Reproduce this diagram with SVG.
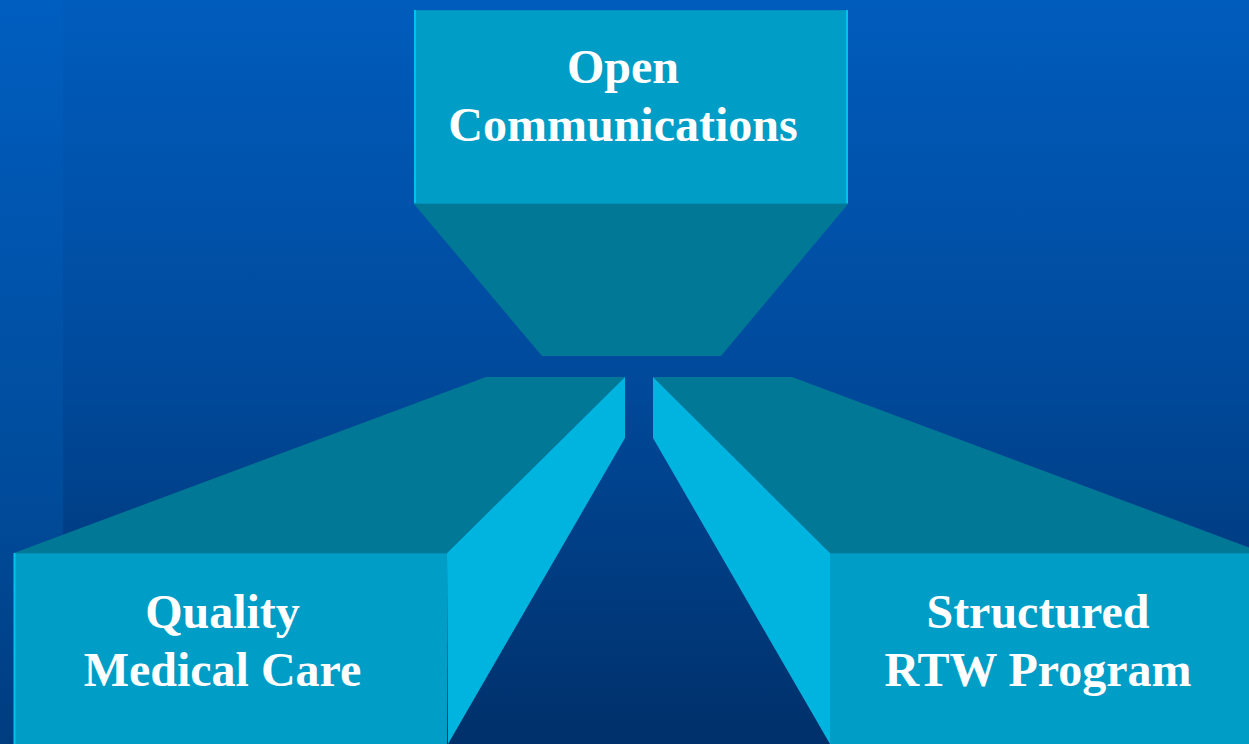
<svg xmlns="http://www.w3.org/2000/svg" width="1249" height="744" viewBox="0 0 1249 744">
  <defs>
    <linearGradient id="bgMain" x1="0" y1="0" x2="0" y2="1">
      <stop offset="0" stop-color="#005CBC"/>
      <stop offset="0.5" stop-color="#004A9C"/>
      <stop offset="1" stop-color="#00306A"/>
    </linearGradient>
    <linearGradient id="bgStrip" x1="0" y1="0" x2="0" y2="1">
      <stop offset="0" stop-color="#005EC0"/>
      <stop offset="0.7" stop-color="#004A98"/>
      <stop offset="1" stop-color="#003C80"/>
    </linearGradient>
    <style>
      .front { fill: #009EC6; }
      .top { fill: #007896; }
      .side { fill: #00B4E0; }
      .edge { stroke: #00C2EC; stroke-width: 2; fill: none; }
      .rim { stroke: #0090B8; stroke-width: 1; fill: none; }
      .label { font-family: "Liberation Serif", "Times New Roman", serif; font-weight: bold; font-size: 48px; fill: #FFFFFF; text-anchor: middle; }
    </style>
  </defs>

  <!-- backdrop -->
  <rect x="0" y="0" width="1249" height="744" fill="url(#bgMain)"/>
  <rect x="0" y="0" width="63" height="744" fill="url(#bgStrip)"/>

  <!-- funnel linking the blocks -->
  <g id="connectors">
    <polygon class="top" points="414,204 848,204 721,356 542,356"/>
  </g>

  <!-- Open Communications -->
  <g id="node-open-communications">
    <rect class="front" x="414" y="10" width="434" height="194"/>
    <line class="rim" x1="414" y1="10.5" x2="848" y2="10.5"/>
    <line class="edge" x1="415" y1="10" x2="415" y2="204"/>
    <line class="edge" x1="847" y1="10" x2="847" y2="204" stroke-width="1.5"/>
    <line class="rim" x1="414" y1="203.5" x2="848" y2="203.5" stroke="#00ACD6"/>
    <text class="label" x="623" y="83">Open</text>
    <text class="label" x="623" y="141">Communications</text>
  </g>

  <!-- Quality Medical Care -->
  <g id="node-quality-medical-care">
    <polygon class="top" points="14,553 486,377 625,377 447,553"/>
    <polygon class="side" points="447,553 625,377 625,438 448,744"/>
    <rect class="front" x="14" y="553" width="433" height="191"/>
    <line class="rim" x1="14" y1="553.5" x2="447" y2="553.5" stroke="#00ACD6"/>
    <line class="edge" x1="14.5" y1="553" x2="14.5" y2="744" stroke="#00B0DC" stroke-width="1.5"/>
    <text class="label" x="222.5" y="628">Quality</text>
    <text class="label" x="222.5" y="686">Medical Care</text>
  </g>

  <!-- Structured RTW Program -->
  <g id="node-structured-rtw-program">
    <polygon class="top" points="653,377 792,377 1264,553 830,553"/>
    <polygon class="side" points="830,553 653,377 653,438 830,744"/>
    <rect class="front" x="830" y="553" width="434" height="191"/>
    <line class="rim" x1="830" y1="553.5" x2="1249" y2="553.5" stroke="#00ACD6"/>
    <text class="label" x="1038" y="628">Structured</text>
    <text class="label" x="1038" y="686">RTW Program</text>
  </g>
</svg>
